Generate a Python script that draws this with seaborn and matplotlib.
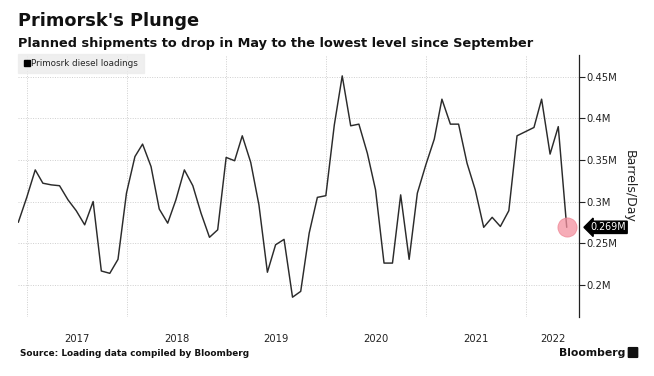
import matplotlib
matplotlib.use("Agg")
import matplotlib.pyplot as plt
from matplotlib.lines import Line2D
from matplotlib.patches import FancyBboxPatch
import seaborn as sns
import pandas as pd

# ---- data (monthly, Nov 2016 .. May 2022, barrels/day in millions) ----
start_month = "2016-11-30"
loadings = [
    0.275, 0.305, 0.338, 0.322, 0.320, 0.319, 0.302, 0.289, 0.272, 0.300,
    0.2165, 0.2137, 0.2305, 0.310, 0.354, 0.369, 0.342, 0.291, 0.274, 0.302,
    0.338, 0.319, 0.286, 0.257, 0.266, 0.353, 0.349, 0.379, 0.347, 0.296,
    0.215, 0.248, 0.2545, 0.185, 0.192, 0.262, 0.305, 0.307, 0.392, 0.451,
    0.391, 0.393, 0.358, 0.314, 0.226, 0.226, 0.308, 0.2305, 0.310, 0.344,
    0.375, 0.423, 0.393, 0.393, 0.346, 0.314, 0.269, 0.281, 0.270, 0.289,
    0.379, 0.384, 0.389, 0.423, 0.357, 0.390, 0.269,
]
series_name = "Primosrk diesel loadings"
y_ticks = [0.2, 0.25, 0.3, 0.35, 0.4, 0.45]
y_tick_labels = ["0.2M", "0.25M", "0.3M", "0.35M", "0.4M", "0.45M"]
years = [2017, 2018, 2019, 2020, 2021, 2022]
last_label = "0.269M"

dates = pd.date_range(start_month, periods=len(loadings), freq="ME")
df = pd.DataFrame({"date": dates, "value": loadings})

sns.set_theme(style="white")
plt.rcParams["font.family"] = ["DejaVu Sans"]

W, H = 654, 376
fig = plt.figure(figsize=(W / 100, H / 100), dpi=100)
ax = fig.add_axes([18.3 / W, 1 - 317 / H, (579.3 - 18.3) / W, (317 - 55) / H])

sns.lineplot(data=df, x="date", y="value", ax=ax, color="#2b2b2b",
             linewidth=1.05, legend=False)

x_right = pd.Timestamp("2022-07-16")
ax.set_xlim(dates[0], x_right)
ax.set_ylim(0.1612, 0.4761)

# y axis on the right
ax.yaxis.tick_right()
ax.yaxis.set_label_position("right")
ax.set_yticks(y_ticks)
ax.set_yticklabels(y_tick_labels, fontsize=7.2, color="#222222")
ax.tick_params(axis="y", which="major", direction="out", length=4, width=0.8,
               color="#222222", pad=1, right=True, left=False)
ax.set_ylabel("Barrels/Day", rotation=270, fontsize=9, color="#222222")
ax.yaxis.set_label_coords(1.1, 0.5)

# x axis: gridlines at year starts, labels centred in each visible year
major = [pd.Timestamp(f"{y}-01-01") for y in years]
minor = []
for y in years:
    a = pd.Timestamp(f"{y}-01-01")
    b = min(pd.Timestamp(f"{y + 1}-01-01"), x_right)
    minor.append(a + (b - a) / 2)
ax.set_xticks(major)
ax.set_xticklabels([""] * len(major))
ax.set_xticks(minor, minor=True)
ax.set_xticklabels([str(y) for y in years], minor=True, fontsize=7.2,
                   color="#222222")
ax.tick_params(axis="x", which="both", length=0, pad=12.5)
ax.set_xlabel("")

ax.grid(True, which="major", axis="both", linestyle=(0, (1, 1.5)),
        color="#cfcfcf", linewidth=0.7)
for s in ["top", "left", "bottom"]:
    ax.spines[s].set_visible(False)
ax.spines["right"].set_color("#222222")
ax.spines["right"].set_linewidth(0.9)

# highlight last point
last_date = dates[-1]
last_val = loadings[-1]
ax.scatter([last_date], [last_val], s=190, color="#f4909f", alpha=0.75,
           edgecolor="#ee8090", linewidth=0.6, zorder=5)
ax.annotate(last_label, xy=(1.0, last_val), xycoords=("axes fraction", "data"),
            xytext=(8, 0), textcoords="offset points", fontsize=6.9,
            color="white", va="center", ha="left",
            bbox=dict(boxstyle="larrow,pad=0.12", fc="black", ec="black"),
            annotation_clip=False, zorder=6)

# legend
handle = Line2D([], [], marker="s", linestyle="none", color="black",
                markersize=5)
leg = ax.legend([handle], [series_name], loc="upper left",
                bbox_to_anchor=(0.0, 1.004), frameon=True, fontsize=6.3,
                handletextpad=0.1, handlelength=0.8, borderpad=0.6,
                borderaxespad=0.0)
leg.get_frame().set_facecolor("#ececec")
leg.get_frame().set_edgecolor("#ececec")
leg.get_frame().set_boxstyle("square", pad=0.0)

# titles and footer
fig.text(18 / W, 1 - 21 / H, "Primorsk's Plunge", fontsize=12.8,
         fontweight="bold", va="center", ha="left", color="#111111")
fig.text(18 / W, 1 - 43 / H,
         "Planned shipments to drop in May to the lowest level since September",
         fontsize=9.3, fontweight="bold", va="center", ha="left",
         color="#111111")
fig.text(20 / W, 1 - 353 / H, "Source: Loading data compiled by Bloomberg",
         fontsize=6.4, fontweight="bold", va="center", ha="left",
         color="#111111")
fig.text(625 / W, 1 - 353 / H, "Bloomberg", fontsize=7.8, fontweight="bold",
         va="center", ha="right", color="#111111")
fig.patches.append(FancyBboxPatch((629 / W, 1 - 357 / H), 8 / W, 9 / H,
                                  boxstyle="round,pad=0.001", fc="#111111",
                                  ec="#111111", transform=fig.transFigure,
                                  figure=fig))

fig.savefig("out.png", dpi=100)
